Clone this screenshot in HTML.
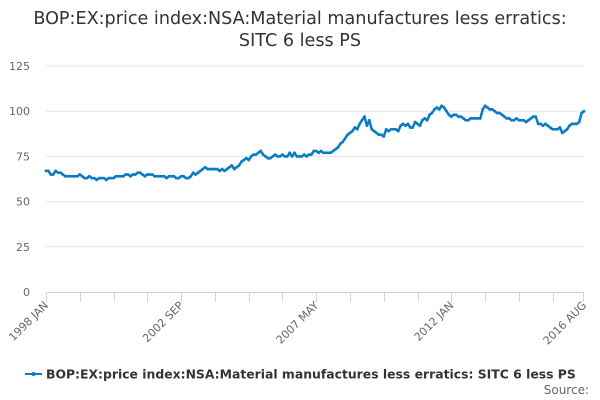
<!DOCTYPE html>
<html><head><meta charset="utf-8"><style>
body{margin:0;background:#fff;font-family:"DejaVu Sans","Liberation Sans",sans-serif}
svg{display:block}
</style></head><body>
<svg width="600" height="400">
<text x="300" y="24" text-anchor="middle" font-size="17.6" fill="#333">BOP:EX:price index:NSA:Material manufactures less erratics:</text>
<text x="300" y="46" text-anchor="middle" font-size="17.6" fill="#333">SITC 6 less PS</text>
<g id="grid"></g><g id="axes"></g><g id="series"></g>
<g>
<line x1="25" x2="42" y1="374" y2="374" stroke="#0a7bc4" stroke-width="2"/>
<circle cx="33.5" cy="374" r="2" fill="#0a7bc4"/>
<text x="46" y="378.5" font-size="12.4" font-weight="bold" fill="#333">BOP:EX:price index:NSA:Material manufactures less erratics: SITC 6 less PS</text>
</g>
<text x="589" y="394" text-anchor="end" font-size="12" fill="#666">Source:</text>
</svg>
<script>
const values = [
67,67,65,65,67,66,66,65,64,64,64,64,
64,64,65,64,63,63,64,63,63,62,63,63,
63,62,63,63,63,64,64,64,64,65,65,64,
65,65,66,66,65,64,65,65,65,64,64,64,
64,64,63,64,64,64,63,63,64,64,63,63,
64,66,65,66,67,68,69,68,68,68,68,68,
67,68,67,68,69,70,68,69,70,72,73,74,
73,75,76,76,77,78,76,75,74,74,75,76,
75,75,76,75,75,77,75,77,75,75,75,76,
75,76,76,78,78,77,78,77,77,77,77,78,
79,80,82,83,85,87,88,89,91,90,93,95,
97,92,95,90,89,88,87,87,86,90,89,90,
90,90,89,92,93,92,93,91,91,94,93,92,
95,96,95,98,99,101,102,101,103,102,100,98,
97,98,98,97,97,96,95,95,96,96,96,96,
96,101,103,102,101,101,100,99,99,98,97,96,
96,95,95,96,95,95,95,94,95,96,97,97,
93,93,92,93,92,91,90,90,90,91,88,89,
90,92,93,93,93,94,99,100];
const yTicks = [0,25,50,75,100,125];
const xLabels = ["1998 JAN","2002 SEP","2007 MAY","2012 JAN","2016 AUG"];
const xLabelIdx = [0,56,112,168,223];
const NS='http://www.w3.org/2000/svg';
const X0=46,X1=584,Y0=292,Y1=66;
const xs=i=>X0+(X1-X0)*i/(values.length-1);
const ys=v=>Y0-(Y0-Y1)*v/125;
function mk(t,a,p){const e=document.createElementNS(NS,t);for(const k in a)e.setAttribute(k,a[k]);p.appendChild(e);return e;}
const g=document.getElementById('grid'),ax=document.getElementById('axes'),s=document.getElementById('series');
yTicks.forEach(v=>{
 if(v>0){const l=mk('line',{x1:X0,x2:X1,y1:ys(v),y2:ys(v),stroke:'#e6e6e6'},g);
 
 }
 const t=mk('text',{x:30,y:ys(v)+4,'text-anchor':'end','font-size':11,fill:'#666'},ax);t.textContent=v;
 
 
});
mk('line',{x1:X0,x2:X1,y1:Y0+0.5,y2:Y0+0.5,stroke:'#ccd6eb'},ax);
for(let i=0;i<values.length;i+=14){const x=Math.round(xs(i))+0.5;mk('line',{x1:x,x2:x,y1:Y0,y2:Y0+10,stroke:'#ccd6eb'},ax);}
mk('line',{x1:X1-0.5,x2:X1-0.5,y1:Y0,y2:Y0+10,stroke:'#ccd6eb'},ax);
xLabels.forEach((lab,k)=>{const x=xs(xLabelIdx[k]);
 const t=mk('text',{x:x+3,y:Y0+14,'text-anchor':'end','font-size':11,fill:'#666',transform:`rotate(-45 ${x+3} ${Y0+14})`},ax);t.textContent=lab;
 
 });
const p=mk('polyline',{points:values.map((v,i)=>xs(i).toFixed(1)+','+ys(v).toFixed(1)).join(' '),fill:'none',stroke:'#0a7bc4','stroke-width':2.5,'stroke-linejoin':'round'},s);


values.forEach((v,i)=>{const c=mk('circle',{cx:xs(i),cy:ys(v),r:1.4,fill:'#0a7bc4'},s);
 
 });
</script>
</body></html>
